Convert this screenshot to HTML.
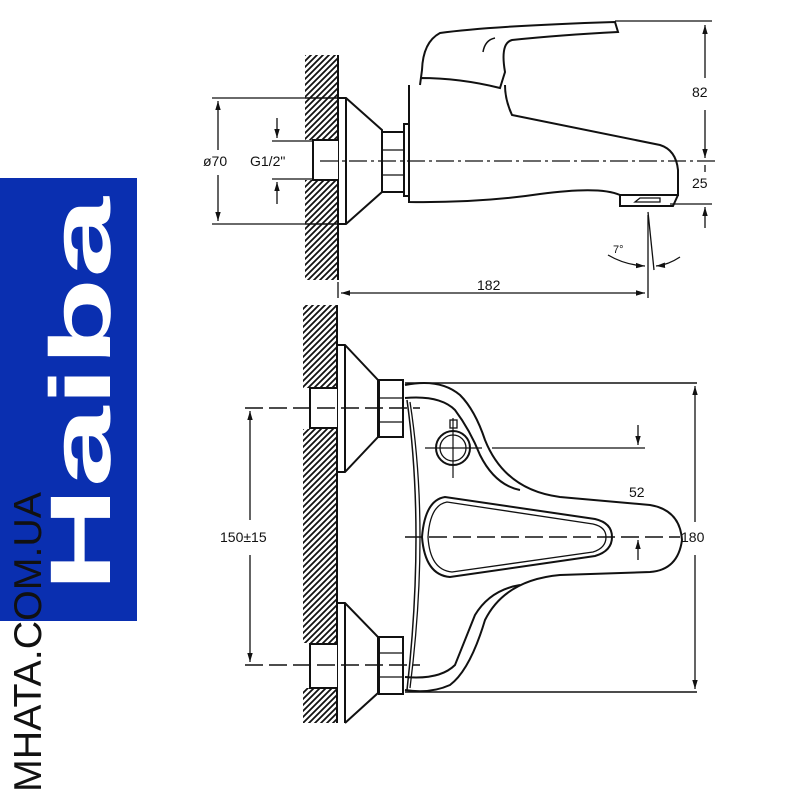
<!DOCTYPE html>
<html><head><meta charset="utf-8"><style>
html,body{margin:0;padding:0;background:#fff;width:800px;height:800px;overflow:hidden}
svg{display:block}
text{font-family:"Liberation Sans",sans-serif;fill:#111}
</style></head><body>
<svg width="800" height="800" viewBox="0 0 800 800" xmlns="http://www.w3.org/2000/svg">
<defs>
<pattern id="h" width="6" height="6" patternUnits="userSpaceOnUse">
<path d="M0,6 L6,0 M-1,1 L1,-1 M5,7 L7,5" stroke="#111" stroke-width="1.8"/>
</pattern>
<marker id="a" viewBox="0 0 10 10" refX="10" refY="5" markerWidth="7" markerHeight="7" orient="auto-start-reverse"><path d="M0,2 L10,5 L0,8z" fill="#111"/></marker>
</defs>
<!-- brand -->
<rect x="0" y="178" width="137" height="443" fill="#0a2fb0"/>
<text transform="translate(110,592) rotate(-90)" font-size="86" font-weight="bold" textLength="395" lengthAdjust="spacingAndGlyphs" style="fill:#fff">Haiba</text>
<text transform="translate(41,792) rotate(-90)" font-size="39" textLength="300" lengthAdjust="spacingAndGlyphs" style="fill:#111">MHATA.COM.UA</text>

<g fill="none" stroke="#111" stroke-width="2">
<!-- TOP VIEW wall -->
<rect x="305" y="55" width="33" height="85" fill="url(#h)" stroke="none"/>
<rect x="305" y="180" width="33" height="100" fill="url(#h)" stroke="none"/>
<line x1="338" y1="55" x2="338" y2="280"/>
<path d="M338,140 H313 V180 H338" fill="#fff"/>
<line x1="305" y1="98" x2="338" y2="98" stroke-width="1.5"/>
<line x1="305" y1="224" x2="338" y2="224" stroke-width="1.5"/>
<!-- escutcheon -->
<path d="M338,98 H346 L382,130 V192 L346,224 H338"/>
<line x1="346" y1="98" x2="346" y2="224"/>
<!-- nut -->
<path d="M382,132 H404 V192 H382 Z"/>
<line x1="382" y1="150" x2="404" y2="150" stroke-width="1.3"/>
<line x1="382" y1="175" x2="404" y2="175" stroke-width="1.3"/>
<rect x="404" y="124" width="5" height="72"/>
<!-- body -->
<path d="M409,85 V202 Q480,203 540,194 Q600,186 620,195 H678 V170 Q676,150 660,145 L512,115 Q505,100 505,85"/>
<path d="M420,85 L422,70 Q423,42 440,33 Q490,26 615,22 L618,32 Q560,35 512,40 Q500,43 505,72 L500,88 Q460,78 420,78"/>
<path d="M483,52 Q485,40 495,38" stroke-width="1.5"/>
<path d="M620,195 V206 H673 L678,195"/>
<path d="M635,202 H660 V198 H640 Z" stroke-width="1.3"/>
<!-- centerline -->
<line x1="320" y1="161" x2="715" y2="161" stroke-width="1.3" stroke-dasharray="18,4,3,4"/>
<!-- dims -->
<line x1="615" y1="21" x2="712" y2="21" stroke-width="1.3"/>
<line x1="705" y1="25" x2="705" y2="78" stroke-width="1.3" marker-start="url(#a)"/>
<line x1="705" y1="110" x2="705" y2="158" stroke-width="1.3" marker-end="url(#a)"/>
<line x1="705" y1="165" x2="705" y2="172" stroke-width="1.3"/>
<line x1="670" y1="204" x2="712" y2="204" stroke-width="1.3"/>
<line x1="705" y1="207" x2="705" y2="228" stroke-width="1.3" marker-start="url(#a)"/>
<line x1="212" y1="98" x2="305" y2="98" stroke-width="1.3"/>
<line x1="212" y1="224" x2="305" y2="224" stroke-width="1.3"/>
<line x1="218" y1="101" x2="218" y2="150" stroke-width="1.3" marker-start="url(#a)"/>
<line x1="218" y1="175" x2="218" y2="221" stroke-width="1.3" marker-end="url(#a)"/>
<line x1="272" y1="141" x2="313" y2="141" stroke-width="1.3"/>
<line x1="272" y1="179" x2="313" y2="179" stroke-width="1.3"/>
<line x1="277" y1="118" x2="277" y2="138" stroke-width="1.3" marker-end="url(#a)"/>
<line x1="277" y1="204" x2="277" y2="182" stroke-width="1.3" marker-end="url(#a)"/>
<line x1="338" y1="282" x2="338" y2="298" stroke-width="1.3"/>
<line x1="341" y1="293" x2="645" y2="293" stroke-width="1.3" marker-start="url(#a)" marker-end="url(#a)"/>
<line x1="648" y1="215" x2="648" y2="298" stroke-width="1.3"/>
<line x1="648" y1="212" x2="654" y2="270" stroke-width="1.3"/>
<path d="M608,255 Q625,265 645,266" stroke-width="1.3" marker-end="url(#a)"/>
<path d="M680,257 Q668,265 656,266" stroke-width="1.3" marker-end="url(#a)"/>

<!-- BOTTOM VIEW wall -->
<rect x="303" y="305" width="34" height="83" fill="url(#h)" stroke="none"/>
<rect x="303" y="429" width="34" height="214" fill="url(#h)" stroke="none"/>
<rect x="303" y="688" width="34" height="35" fill="url(#h)" stroke="none"/>
<line x1="337" y1="305" x2="337" y2="723"/>
<path d="M337,388 H310 V428 H337" fill="#fff"/>
<path d="M337,644 H310 V688 H337" fill="#fff"/>
<!-- escutcheons -->
<path d="M337,345 H345 L378,380 V437 L345,472 H337"/>
<line x1="345" y1="345" x2="345" y2="472"/>
<path d="M337,603 H345 L378,637 V693 L345,723"/>
<line x1="345" y1="603" x2="345" y2="723"/>
<!-- nuts -->
<rect x="379" y="380" width="24" height="57"/>
<line x1="379" y1="398" x2="403" y2="398" stroke-width="1.3"/>
<line x1="379" y1="422" x2="403" y2="422" stroke-width="1.3"/>
<rect x="379" y="637" width="24" height="57"/>
<line x1="379" y1="653" x2="403" y2="653" stroke-width="1.3"/>
<line x1="379" y1="677" x2="403" y2="677" stroke-width="1.3"/>
<!-- body -->
<line x1="405" y1="383" x2="697" y2="383" stroke-width="1.5"/>
<line x1="405" y1="692" x2="697" y2="692" stroke-width="1.5"/>
<path d="M405,385 Q440,378 460,395 Q475,410 485,440 Q505,490 560,497 L650,505 Q680,510 682,540 Q678,570 650,572 L560,575 Q505,580 485,620 Q470,670 450,685 Q430,694 405,690"/>
<path d="M405,398 Q440,395 455,410 Q470,430 480,455 Q495,485 520,490"/>
<path d="M405,677 Q440,680 455,665 Q465,640 475,615 Q490,590 520,585"/>
<path d="M407,400 Q425,530 407,690" stroke-width="1.5"/>
<path d="M410,402 Q430,530 410,688" stroke-width="1.3"/>
<!-- handle teardrop -->
<path d="M445,497 Q425,500 422,537 Q425,575 450,577 L595,556 Q612,551 612,537 Q612,523 595,519 Z"/>
<path d="M447,502 Q430,505 428,537 Q430,570 452,572 L593,552 Q606,548 606,537 Q606,527 593,524 Z" stroke-width="1.3"/>
<!-- small knob -->
<circle cx="453" cy="448" r="17"/>
<circle cx="453" cy="448" r="13" stroke-width="1.3"/>
<rect x="450" y="420" width="7" height="8" stroke-width="1.3"/>
<line x1="453" y1="418" x2="453" y2="478" stroke-width="1.2"/>
<line x1="425" y1="448" x2="482" y2="448" stroke-width="1.2"/>
<line x1="492" y1="448" x2="645" y2="448" stroke-width="1.3"/>
<line x1="638" y1="425" x2="638" y2="445" stroke-width="1.3" marker-end="url(#a)"/>
<line x1="638" y1="560" x2="638" y2="540" stroke-width="1.3" marker-end="url(#a)"/>
<!-- centerlines -->
<line x1="405" y1="537" x2="680" y2="537" stroke-width="1.5" stroke-dasharray="18,6"/>
<line x1="245" y1="408" x2="420" y2="408" stroke-width="1.5" stroke-dasharray="18,6"/>
<line x1="245" y1="665" x2="420" y2="665" stroke-width="1.5" stroke-dasharray="18,6"/>
<line x1="250" y1="411" x2="250" y2="520" stroke-width="1.3" marker-start="url(#a)"/>
<line x1="250" y1="555" x2="250" y2="662" stroke-width="1.3" marker-end="url(#a)"/>
<line x1="695" y1="386" x2="695" y2="522" stroke-width="1.3" marker-start="url(#a)"/>
<line x1="695" y1="555" x2="695" y2="689" stroke-width="1.3" marker-end="url(#a)"/>
</g>
<g font-size="14">
<text x="692" y="97">82</text>
<text x="692" y="188">25</text>
<text x="203" y="166">ø70</text>
<text x="250" y="166">G1/2"</text>
<text x="477" y="290">182</text>
<text x="613" y="253" font-size="11">7°</text>
<text x="629" y="497">52</text>
<text x="681" y="542">180</text>
<text x="220" y="542">150±15</text>
</g>
</svg>
</body></html>
